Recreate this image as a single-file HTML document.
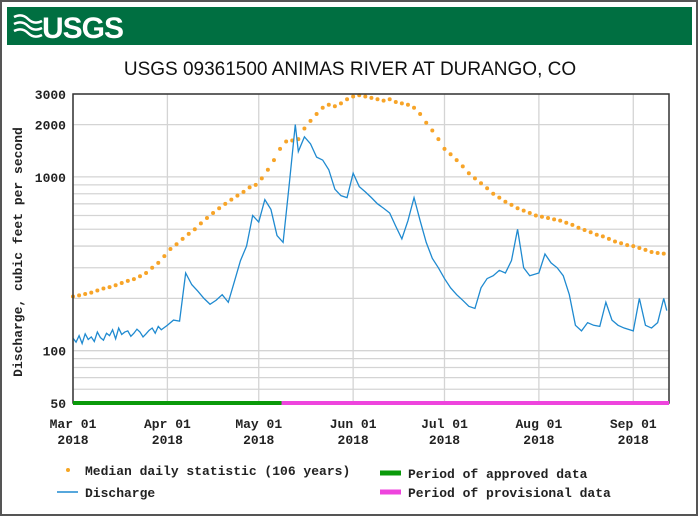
<!DOCTYPE html>
<html><head><meta charset="utf-8"><style>
body{margin:0;background:#fff;width:700px;height:518px;overflow:hidden;font-family:"Liberation Mono",monospace}
svg text{font-family:"Liberation Mono",monospace;font-weight:bold;font-size:13px;fill:#222}
</style></head><body>
<svg id="c" width="700" height="518" xmlns="http://www.w3.org/2000/svg">
<rect x="1" y="1" width="696" height="514" fill="#fff" stroke="#555" stroke-width="2"/>
<rect x="7" y="7" width="685" height="38" fill="#006f41"/>
<g>
<path d="M14 17 q8 -4 14 2 q6 6 14 2 M14 24 q8 -4 14 2 q6 6 14 2 M14 31 q8 -4 14 2 q6 6 14 2" stroke="#fff" stroke-width="2.5" fill="none"/>
<text x="42" y="38" style="font-family:'Liberation Sans',sans-serif;font-size:30px;font-weight:bold;fill:#fff;letter-spacing:-1px">USGS</text>
</g>
<text x="350" y="75" text-anchor="middle" style="font-family:'Liberation Sans',sans-serif;font-weight:normal;font-size:19px;fill:#111">USGS 09361500 ANIMAS RIVER AT DURANGO, CO</text>
<g id="grid"></g><g id="series"></g><g id="axes"></g>
<text transform="translate(22,252) rotate(-90)" text-anchor="middle">Discharge, cubic feet per second</text>
<g>
<g><circle cx="68" cy="470" r="2" fill="#f5a623"/><text x="85" y="475">Median daily statistic (106 years)</text></g>
<g><line x1="57" y1="492" x2="78" y2="492" stroke="#1f8ad0" stroke-width="1.5"/><text x="85" y="497">Discharge</text></g>
<g><line x1="380" y1="473" x2="401" y2="473" stroke="#0a9a0a" stroke-width="5"/><text x="408" y="478">Period of approved data</text></g>
<g><line x1="380" y1="492" x2="401" y2="492" stroke="#ee44dd" stroke-width="5"/><text x="408" y="497">Period of provisional data</text></g>
</g>
</svg>
<script>
const yTicks=[50,100,1000,2000,3000];
const yMinor=[60,70,80,90,200,300,400,500,600,700,800,900];
const monthDays=[0,31,61,92,122,153,184];
const monthLabels=["Mar 01","Apr 01","May 01","Jun 01","Jul 01","Aug 01","Sep 01"];
const qDays=[0,1,2,3,4,5,6,7,8,9,10,11,12,13,14,15,16,17,18,19,20,21,22,23,24,25,26,27,28,29,31,33,35,37,39,41,43,45,47,49,51,53,55,57,59,61,63,65,67,69,71,73,74,76,78,80,82,84,86,88,90,92,94,96,98,100,102,104,106,108,110,112,114,116,118,120,122,124,126,128,130,132,134,136,138,140,142,144,146,148,150,153,155,157,159,161,163,165,167,169,171,173,175,177,179,181,184,186,188,190,192,194,195];
const qVals=[118,112,122,110,125,116,120,113,128,119,115,126,122,132,117,135,124,128,130,121,126,133,128,120,125,131,135,126,138,132,140,150,148,280,240,220,200,185,195,210,190,250,330,400,600,550,740,650,460,420,900,2000,1400,1700,1550,1300,1250,1100,850,780,760,1050,880,820,760,700,660,620,520,440,560,760,560,420,340,300,260,230,210,195,180,175,230,260,270,290,280,330,500,300,270,280,360,320,300,270,210,140,130,145,140,138,190,150,140,135,130,200,140,135,145,200,170,125];
const mDays=[0,2,4,6,8,10,12,14,16,18,20,22,24,26,28,30,32,34,36,38,40,42,44,46,48,50,52,54,56,58,60,62,64,66,68,70,72,74,76,78,80,82,84,86,88,90,92,94,96,98,100,102,104,106,108,110,112,114,116,118,120,122,124,126,128,130,132,134,136,138,140,142,144,146,148,150,152,154,156,158,160,162,164,166,168,170,172,174,176,178,180,182,184,186,188,190,192,194];
const mVals=[205,208,212,216,222,228,232,238,245,252,258,268,280,300,320,350,385,410,440,470,500,540,580,620,660,700,740,780,820,870,900,980,1100,1250,1450,1600,1620,1650,1900,2100,2300,2500,2600,2550,2650,2800,2900,2950,2900,2850,2800,2750,2800,2700,2650,2600,2500,2300,2050,1850,1650,1450,1350,1250,1150,1050,980,920,860,800,760,720,690,660,640,620,600,590,580,570,560,545,530,510,495,480,465,455,440,425,415,405,400,390,380,370,365,362];
const NS="http://www.w3.org/2000/svg";
const X0=73,X1=669,Y0=94,Y1=403;
const xS=d=>X0+d*3.045;
const yS=v=>Y1-(Math.log10(v)-Math.log10(50))/(Math.log10(3000)-Math.log10(50))*(Y1-Y0);
function mk(t,a,p){const e=document.createElementNS(NS,t);for(const k in a)e.setAttribute(k,a[k]);p.appendChild(e);return e;}
const g=document.getElementById('grid'),s=document.getElementById('series'),ax=document.getElementById('axes');
yMinor.concat(yTicks).forEach(v=>{const l=mk('line',{x1:X0,x2:X1,y1:yS(v),y2:yS(v),stroke:'#d4d4d4','stroke-width':1.3},g);

});
monthDays.forEach(d=>{const l=mk('line',{x1:xS(d),x2:xS(d),y1:Y0,y2:Y1,stroke:'#d4d4d4','stroke-width':1.3},g);

});
mDays.forEach((d,i)=>{const c=mk('circle',{cx:xS(d),cy:yS(mVals[i]),r:2,fill:'#f7a428'},s);

});
const p=mk('polyline',{points:qDays.map((d,i)=>xS(d)+','+yS(qVals[i])).join(' '),fill:'none',stroke:'#1f8ad0','stroke-width':1.3},s);


const fr=mk('rect',{x:X0,y:Y0,width:X1-X0,height:Y1-Y0,fill:'none',stroke:'#333','stroke-width':1.5},ax);


const ap=mk('line',{x1:X0,x2:xS(68.5),y1:Y1,y2:Y1,stroke:'#0a9a0a','stroke-width':4},ax);


const pp=mk('line',{x1:xS(68.5),x2:X1,y1:Y1,y2:Y1,stroke:'#ee44dd','stroke-width':4},ax);


yTicks.forEach(v=>{const t=mk('text',{x:66,y:yS(v)+5,'text-anchor':'end'},ax);t.textContent=v;

});
monthDays.forEach((d,i)=>{const t=mk('text',{x:xS(d),y:428,'text-anchor':'middle'},ax);t.textContent=monthLabels[i];


const t2=mk('text',{x:xS(d),y:444,'text-anchor':'middle'},ax);t2.textContent='2018';

});
</script>
</body></html>
